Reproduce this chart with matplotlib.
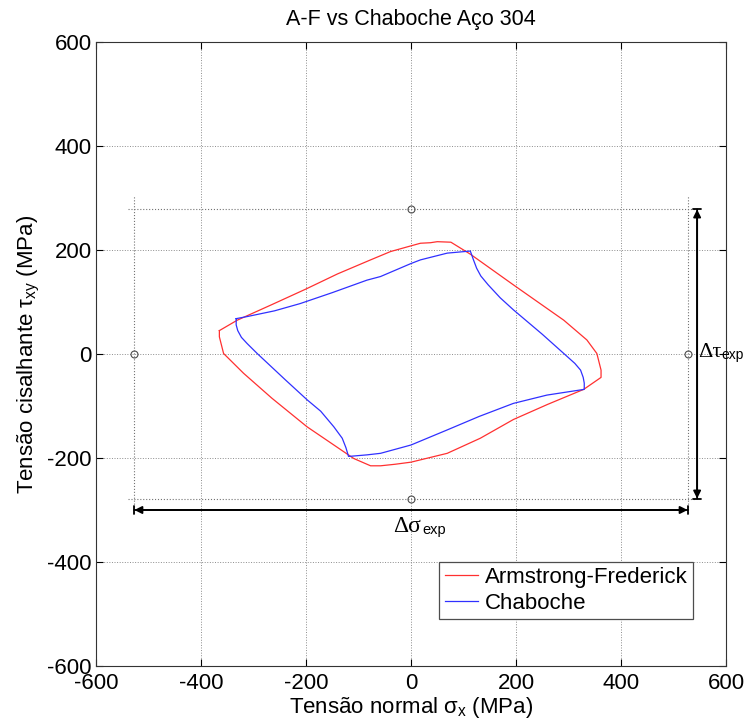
import numpy as np
import matplotlib
matplotlib.use('Agg')
import matplotlib.pyplot as plt

plt.rcParams['font.family'] = ['Liberation Sans', 'DejaVu Sans']
plt.rcParams['mathtext.fontset'] = 'custom'
plt.rcParams['mathtext.rm'] = 'Liberation Sans'
plt.rcParams['mathtext.it'] = 'Liberation Sans'
plt.rcParams['axes.unicode_minus'] = False

# Armstrong-Frederick loop (sigma_x, tau_xy) in MPa
af_sx = [-365, -331, -265, -200, -140, -77, -39, 0, 18, 37, 50, 76, 113, 195, 291, 335, 354, 362,
         362, 329, 260, 195, 132, 69, 0, -30, -58, -77, -109, -198, -265, -319, -338, -357, -365, -365]
af_txy = [45, 65, 95, 125, 154, 181, 197, 208, 213, 214, 216, 215, 192, 133, 65, 27, 1, -31,
          -45, -68, -97, -126, -162, -191, -208, -212, -215, -215, -201, -140, -85, -37, -18, 1, 33, 45]

# Chaboche loop
ch_sx = [-333, -312, -260, -211, -150, -84, -58, 0, 18, 69, 113, 119, 125, 133, 147, 170, 195, 250,
         291, 312, 323, 328, 330,
         330, 259, 195, 130, 69, 0, -58, -84, -119, -124, -131, -147, -172, -198, -239,
         -293, -312, -323, -330, -333, -333]
ch_txy = [68, 72, 83, 97, 118, 142, 149, 174, 181, 194, 198, 181, 165, 150, 133, 108, 85, 38,
          1, -18, -31, -45, -56,
          -68, -79, -95, -120, -146, -175, -191, -194, -197, -180, -162, -140, -110, -88, -50,
          1, 20, 32, 45, 56, 68]

# experimental amplitudes
dsig = 527
dtau = 278

fig = plt.figure(figsize=(7.45, 7.26), dpi=100)
ax = fig.add_axes([96/745, 60/726, 630/745, 624/726])

# reference box
ax.plot([-dsig, -dsig], [-305, 305], color='0.45', ls=':', lw=0.8)
ax.plot([dsig, dsig], [-305, 305], color='0.45', ls=':', lw=0.8)
ax.plot([-540, 540], [dtau, dtau], color='0.45', ls=':', lw=0.8)
ax.plot([-540, 540], [-dtau, -dtau], color='0.45', ls=':', lw=0.8)
ax.plot([0, -dsig, dsig, 0], [dtau, 0, 0, -dtau], ls='none', marker='o', ms=5,
        mfc='none', mec='0.3', mew=0.8)

af_line, = ax.plot(af_sx, af_txy, color='#ff3030', lw=0.9, label='Armstrong-Frederick')
ch_line, = ax.plot(ch_sx, ch_txy, color='#3030ff', lw=0.9, label='Chaboche')

# arrows
for style, ms in (('<|-|>', 11), ('|-|', 3)):
    ax.annotate('', xy=(-dsig, -300), xytext=(dsig, -300),
                arrowprops=dict(arrowstyle=style, color='k', lw=1.3, mutation_scale=ms,
                                shrinkA=0, shrinkB=0))
    ax.annotate('', xy=(545, -dtau), xytext=(545, dtau),
                arrowprops=dict(arrowstyle=style, color='k', lw=1.3, mutation_scale=ms,
                                shrinkA=0, shrinkB=0))

ax.text(-34, -342, '\u0394\u03c3', family='Liberation Serif', fontsize=17, va='baseline', ha='left')
ax.text(21, -347, 'exp', fontsize=10.5, va='baseline', ha='left')
ax.text(547, -6, '\u0394\u03c4', family='Liberation Serif', fontsize=16, va='baseline', ha='left')
ax.text(592, -10, 'exp', fontsize=10, va='baseline', ha='left')

ax.set_xlim(-600, 600)
ax.set_ylim(-600, 600)
ticks = [-600, -400, -200, 0, 200, 400, 600]
ax.set_xticks(ticks)
ax.set_yticks(ticks)
ax.grid(True, color='0.55', ls=':', lw=0.7)
ax.tick_params(direction='in', top=True, right=True, labelsize=16, length=5)
ax.tick_params(axis='x', pad=5)
ax.tick_params(axis='y', pad=3)
for s in ax.spines.values():
    s.set_color('0.2')

ax.set_title('A-F vs Chaboche A\u00e7o 304', fontsize=15.5, pad=12)
ax.set_xlabel(r'Tensão normal $\sigma_{\mathrm{x}}$ (MPa)', fontsize=16, labelpad=1)
ax.set_ylabel(r'Tensão cisalhante $\tau_{\mathrm{xy}}$ (MPa)', fontsize=16, labelpad=4)

leg = ax.legend(handles=[af_line, ch_line], loc='lower right', bbox_to_anchor=(0.948, 0.075),
                borderaxespad=0, fontsize=16, handlelength=1.5, handletextpad=0.3,
                fancybox=False, edgecolor='0.3', framealpha=1, borderpad=0.25, labelspacing=0.2)
leg.get_frame().set_linewidth(0.9)

fig.savefig('out.png', dpi=100)
